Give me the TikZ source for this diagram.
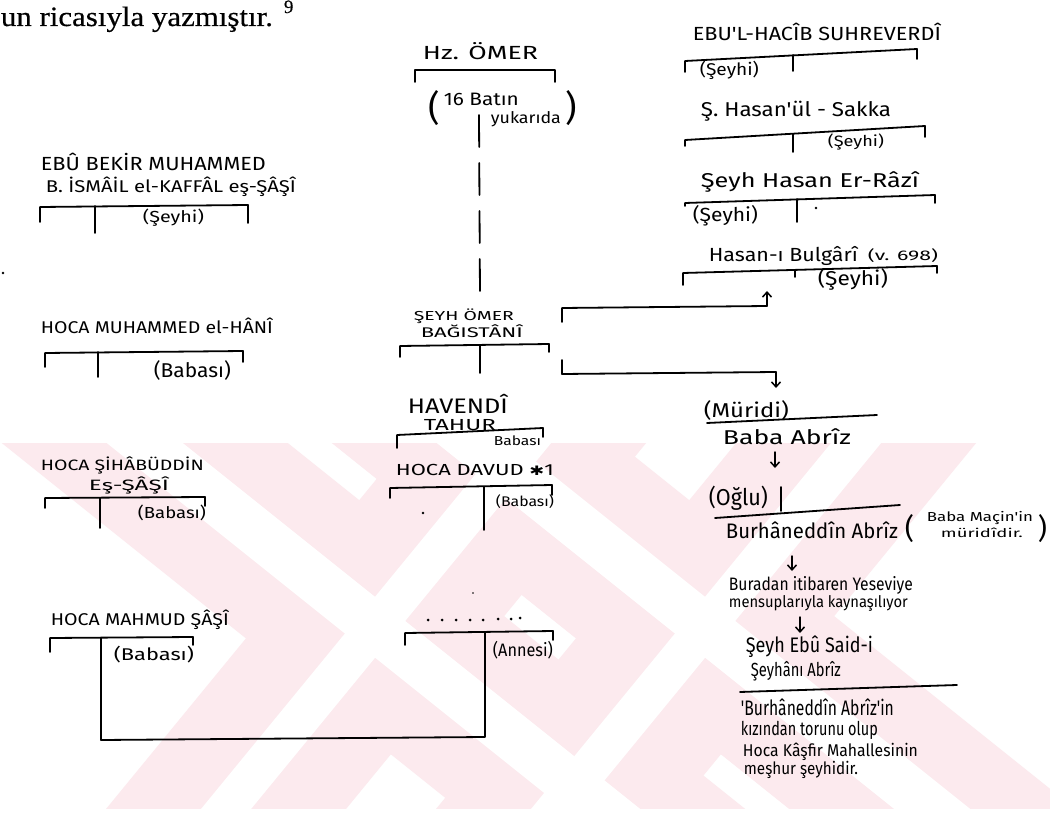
\documentclass[tikz,border=0pt]{standalone}
\usepackage{fontspec}
\setmainfont{Liberation Serif}
\newfontfamily\serifb[FakeBold=0.5]{Liberation Serif}
\newfontfamily\hand{Fira Sans}
\newfontfamily\djv{DejaVu Sans}
\usetikzlibrary{arrows.meta}
\definecolor{wm}{RGB}{252,234,238}
% width W (pt), font size S (pt)
\newcommand\fs[3]{\resizebox{#1pt}{\height}{\fontsize{#2}{#2}\selectfont #3}}
\begin{document}
\begin{tikzpicture}[x=1pt,y=-1pt,
  line width=1.8pt, line cap=round, line join=round,
  hw/.style={inner sep=0pt, anchor=west, font=\hand},
  brk/.style={draw=black, line width=1.8pt},
  harrow/.style={draw=black, line width=1.5pt, -{Straight Barb[length=5pt,width=9pt]}},
  dot/.style={fill=black, draw=none},
  band/.style={fill=wm, draw=none},
  gap/.style={fill=white, draw=none}]
\useasboundingbox (0,0) rectangle (1050,813);
\fill[white] (0,0) rectangle (1050,813);

% faint watermark in the lower half
\begin{scope}
\clip (0,443) rectangle (1050,808);
\fill[band] (-52,400) -- (234,400) -- (796.5,850) -- (510.5,850) -- cycle;
\fill[band] (441.4,400) -- (681.4,400) -- (312.4,850) -- (72.4,850) -- cycle;
\fill[band] (278,400) -- (564,400) -- (1126.5,850) -- (840.5,850) -- cycle;
\fill[band] (771.4,400) -- (1011.4,400) -- (642.4,850) -- (402.4,850) -- cycle;
\fill[gap] (53,400) -- (129,400) -- (691.5,850) -- (615.5,850) -- cycle;
\fill[gap] (536.4,400) -- (586.4,400) -- (217.4,850) -- (167.4,850) -- cycle;
\fill[gap] (383,400) -- (459,400) -- (1021.5,850) -- (945.5,850) -- cycle;
\fill[gap] (866.4,400) -- (916.4,400) -- (547.4,850) -- (497.4,850) -- cycle;
\end{scope}

% top line of body text
\node[anchor=base west, inner sep=0pt, font=\serifb] (toptext) at (0,26) {\fs{272}{28}{un ricasıyla yazmıştır.}};
\node[anchor=base west, inner sep=0pt, font=\serifb] (fn) at (283,13) {\fontsize{19}{19}\selectfont 9};

% ---------------- left column
\node[hw] (ebu1) at (40,162) {\fs{225}{19}{EBÛ BEKİR MUHAMMED}};
\node[hw] (ebu2) at (45,187) {\fs{250}{17}{B. İSMÂİL el-KAFFÂL eş-ŞÂŞÎ}};
\node[hw] (ebus) at (142,218) {\fs{61}{16}{(Şeyhi)}};
\coordinate (b1a) at (40,222); \coordinate (b1b) at (40,207);
\coordinate (b1c) at (248,205); \coordinate (b1d) at (248,223);
\coordinate (b1m) at (95,206); \coordinate (b1n) at (95,233);
\draw[brk] (b1a) -- (b1b) -- (b1c) -- (b1d);
\draw[brk] (b1m) -- (b1n);
\fill[dot] (3,273) circle (1.3);

\node[hw] (hani) at (40,326) {\fs{232}{17}{HOCA MUHAMMED el-HÂNÎ}};
\node[hw] (hanib) at (153,370) {\fs{77}{20}{(Babası)}};
\coordinate (b2a) at (45,367); \coordinate (b2b) at (45,353);
\coordinate (b2c) at (243,351); \coordinate (b2d) at (243,362);
\coordinate (b2m) at (98,352); \coordinate (b2n) at (98,377);
\draw[brk] (b2a) -- (b2b) -- (b2c) -- (b2d);
\draw[brk] (b2m) -- (b2n);

\node[hw] (sih1) at (40,465) {\fs{163}{15}{HOCA ŞİHÂBÜDDİN}};
\node[hw] (sih2) at (88,485) {\fs{80}{15}{Eş-ŞÂŞÎ}};
\node[hw] (sihb) at (137,513) {\fs{68}{16}{(Babası)}};
\coordinate (b3a) at (45,508); \coordinate (b3b) at (45,498);
\coordinate (b3c) at (205,497); \coordinate (b3d) at (205,506);
\coordinate (b3m) at (100,498); \coordinate (b3n) at (100,528);
\draw[brk] (b3a) -- (b3b) -- (b3c) -- (b3d);
\draw[brk] (b3m) -- (b3n);

\node[hw] (mah) at (50,620) {\fs{178}{17}{HOCA MAHMUD ŞÂŞÎ}};
\node[hw] (mahb) at (113,655) {\fs{80}{17}{(Babası)}};
\coordinate (b4a) at (50,652); \coordinate (b4b) at (50,638);
\coordinate (b4c) at (193,637); \coordinate (b4d) at (193,645);
\coordinate (b4m) at (101,638); \coordinate (b4n) at (101,740);
\draw[brk] (b4a) -- (b4b) -- (b4c) -- (b4d);

% ---------------- centre column
\node[hw] (omer) at (422,51) {\fs{115}{19}{Hz. ÖMER}};
\coordinate (c1a) at (415,82); \coordinate (c1b) at (415,70);
\coordinate (c1c) at (555,70); \coordinate (c1d) at (555,82);
\draw[brk] (c1a) -- (c1b) -- (c1c) -- (c1d);
\node[hw] (po) at (428,108) {\resizebox{!}{30pt}{(}};
\node[hw] (batin) at (443,99) {\fs{75}{18}{16 Batın}};
\node[hw] (yuk) at (490,119) {\fs{70}{16}{yukarıda}};
\node[hw] (pc) at (565,108) {\resizebox{!}{30pt}{)}};
\coordinate (dtop) at (479,115);
\coordinate (dbot) at (480,297);

\node[hw] (sey1) at (413,316) {\fs{100}{13}{ŞEYH ÖMER}};
\node[hw] (sey2) at (420,331) {\fs{102}{14}{BAĞISTÂNÎ}};
\coordinate (c2a) at (400,357); \coordinate (c2b) at (400,346);
\coordinate (c2c) at (549,344); \coordinate (c2d) at (549,352);
\coordinate (c2m) at (480,345); \coordinate (c2n) at (480,373);
\draw[brk] (c2a) -- (c2b) -- (c2c) -- (c2d);
\draw[brk] (c2m) -- (c2n);
\draw[brk, dash pattern=on 32pt off 16pt] (dtop) -- (dbot);

\node[hw] (hav1) at (407,404) {\fs{100}{21}{HAVENDÎ}};
\node[hw] (hav2) at (423,425) {\fs{72}{16}{TAHUR}};
\node[hw] (havb) at (493,441) {\fs{47}{13}{Babası}};
\coordinate (c3a) at (397,448); \coordinate (c3b) at (397,435);
\coordinate (c3c) at (543,428); \coordinate (c3d) at (543,437);
\draw[brk] (c3a) -- (c3b) -- (c3c) -- (c3d);

\node[hw] (dav) at (395,470) {\fs{158}{16}{HOCA DAVUD {\djv\fontsize{13}{13}\selectfont ✱}1}};
\node[hw] (davb) at (495,502) {\fs{58}{14}{(Babası)}};
\coordinate (c4a) at (390,498); \coordinate (c4b) at (390,488);
\coordinate (c4c) at (552,485); \coordinate (c4d) at (552,495);
\coordinate (c4m) at (484,487); \coordinate (c4n) at (484,530);
\draw[brk] (c4a) -- (c4b) -- (c4c) -- (c4d);
\draw[brk] (c4m) -- (c4n);
\fill[dot] (423,513) circle (1.3);
\fill[dot] (473,593) circle (0.8);

\foreach \xx/\yy in {428/620,442/620,456/620,470/620,483/620,498/619,511/619,520/618}
  \fill[dot] (\xx,\yy) circle (1.5);
\node[hw] (ann) at (492,650) {\fs{60}{18}{(Annesi)}};
\coordinate (c5a) at (405,645); \coordinate (c5b) at (405,633);
\coordinate (c5c) at (553,631); \coordinate (c5d) at (553,640);
\coordinate (c5m) at (485,632); \coordinate (c5n) at (485,737);
\draw[brk] (c5a) -- (c5b) -- (c5c) -- (c5d);
\draw[brk] (b4m) -- (b4n) -- (c5n) -- (c5m);

% connectors from Seyh Omer
\coordinate (k1a) at (562,322); \coordinate (k1b) at (562,308);
\coordinate (k1c) at (767,306); \coordinate (k1d) at (767,291);
\draw[brk] (k1a) -- (k1b) -- (k1c);
\draw[harrow] (k1c) -- (k1d);
\coordinate (k2a) at (562,360); \coordinate (k2b) at (562,374);
\coordinate (k2c) at (776,372); \coordinate (k2d) at (776,388);
\draw[brk] (k2a) -- (k2b) -- (k2c);
\draw[harrow] (k2c) -- (k2d);

% ---------------- right column
\node[hw] (suh) at (692,32) {\fs{248}{19}{EBU'L-HACÎB SUHREVERDÎ}};
\node[hw] (suhs) at (699,70) {\fs{59}{17}{(Şeyhi)}};
\coordinate (r1a) at (685,72); \coordinate (r1b) at (685,61);
\coordinate (r1c) at (917,49); \coordinate (r1d) at (917,59);
\coordinate (r1m) at (793,55); \coordinate (r1n) at (793,71);
\draw[brk] (r1a) -- (r1b) -- (r1c) -- (r1d);
\draw[brk] (r1m) -- (r1n);

\node[hw] (sak) at (700,111) {\fs{190}{20}{Ş. Hasan'ül - Sakka}};
\node[hw] (saks) at (827,142) {\fs{56}{15}{(Şeyhi)}};
\coordinate (r2a) at (685,146); \coordinate (r2b) at (685,140);
\coordinate (r2c) at (925,126); \coordinate (r2d) at (925,137);
\coordinate (r2m) at (793,134); \coordinate (r2n) at (793,152);
\draw[brk] (r2a) -- (r2b) -- (r2c) -- (r2d);
\draw[brk] (r2m) -- (r2n);

\node[hw] (raz) at (700,182) {\fs{218}{20}{Şeyh Hasan Er-Râzî}};
\node[hw] (razs) at (692,216) {\fs{65}{19}{(Şeyhi)}};
\coordinate (r3a) at (685,206); \coordinate (r3b) at (685,203);
\coordinate (r3c) at (935,195); \coordinate (r3d) at (935,203);
\coordinate (r3m) at (797,199); \coordinate (r3n) at (797,222);
\draw[brk] (r3a) -- (r3b) -- (r3c) -- (r3d);
\draw[brk] (r3m) -- (r3n);
\fill[dot] (816,208) circle (1.3);

\node[hw] (bul) at (708,256) {\fs{149}{19}{Hasan-ı Bulgârî}};
\node[hw] (bulv) at (867,256) {\fs{70}{14}{(v. 698)}};
\node[hw] (buls) at (817,279) {\fs{70}{20}{(Şeyhi)}};
\coordinate (r4a) at (683,285); \coordinate (r4b) at (683,273);
\coordinate (r4c) at (937,266); \coordinate (r4d) at (937,273);
\coordinate (r4m) at (795,270); \coordinate (r4n) at (795,277);
\draw[brk] (r4a) -- (r4b) -- (r4c) -- (r4d);
\draw[brk] (r4m) -- (r4n);

\node[hw] (mur) at (703,410) {\fs{85}{20}{(Müridi)}};
\coordinate (r5a) at (707,423); \coordinate (r5b) at (877,415);
\draw[brk] (r5a) -- (r5b);
\node[hw] (baba) at (722,437) {\fs{128}{20}{Baba Abrîz}};
\coordinate (a1s) at (775,452); \coordinate (a1e) at (775,468);
\draw[harrow] (a1s) -- (a1e);

\node[hw] (ogl) at (708,498) {\fs{59}{23}{(Oğlu)}};
\coordinate (r6m) at (781,487); \coordinate (r6n) at (781,511);
\draw[brk] (r6m) -- (r6n);
\coordinate (r6a) at (715,518); \coordinate (r6b) at (900,505);
\draw[brk] (r6a) -- (r6b);
\node[hw] (bur) at (725,530) {\fs{172}{21}{Burhâneddîn Abrîz}};
\node[hw] (bp1) at (904,529) {\resizebox{!}{24pt}{(}};
\node[hw] (bm1) at (926,518) {\fs{106}{13}{Baba Maçin'in}};
\node[hw] (bm2) at (940,533) {\fs{82}{12}{müridîdir.}};
\node[hw] (bp2) at (1037,529) {\resizebox{!}{24pt}{)}};
\coordinate (a2s) at (792,556); \coordinate (a2e) at (792,571);
\draw[harrow] (a2s) -- (a2e);

\node[hw] (yes1) at (728,585) {\fs{184}{18}{Buradan itibaren Yeseviye}};
\node[hw] (yes2) at (728,603) {\fs{179}{16}{mensuplarıyla kaynaşılıyor}};
\coordinate (a3s) at (800,617); \coordinate (a3e) at (800,633);
\draw[harrow] (a3s) -- (a3e);

\node[hw] (ebs1) at (745,647) {\fs{127}{21}{Şeyh Ebû Said-i}};
\node[hw] (ebs2) at (750,671) {\fs{90}{19}{Şeyhânı Abrîz}};
\coordinate (r7a) at (740,692); \coordinate (r7b) at (957,685);
\draw[brk] (r7a) -- (r7b);
\node[hw] (n1) at (740,707) {\fs{153}{21}{'Burhâneddîn Abrîz'in}};
\node[hw] (n2) at (740,730) {\fs{137}{19}{kızından torunu olup}};
\node[hw] (n3) at (742,752) {\fs{175}{17}{Hoca Kâşfir Mahallesinin}};
\node[hw] (n4) at (743,770) {\fs{114}{17}{meşhur şeyhidir.}};
\end{tikzpicture}
\end{document}
